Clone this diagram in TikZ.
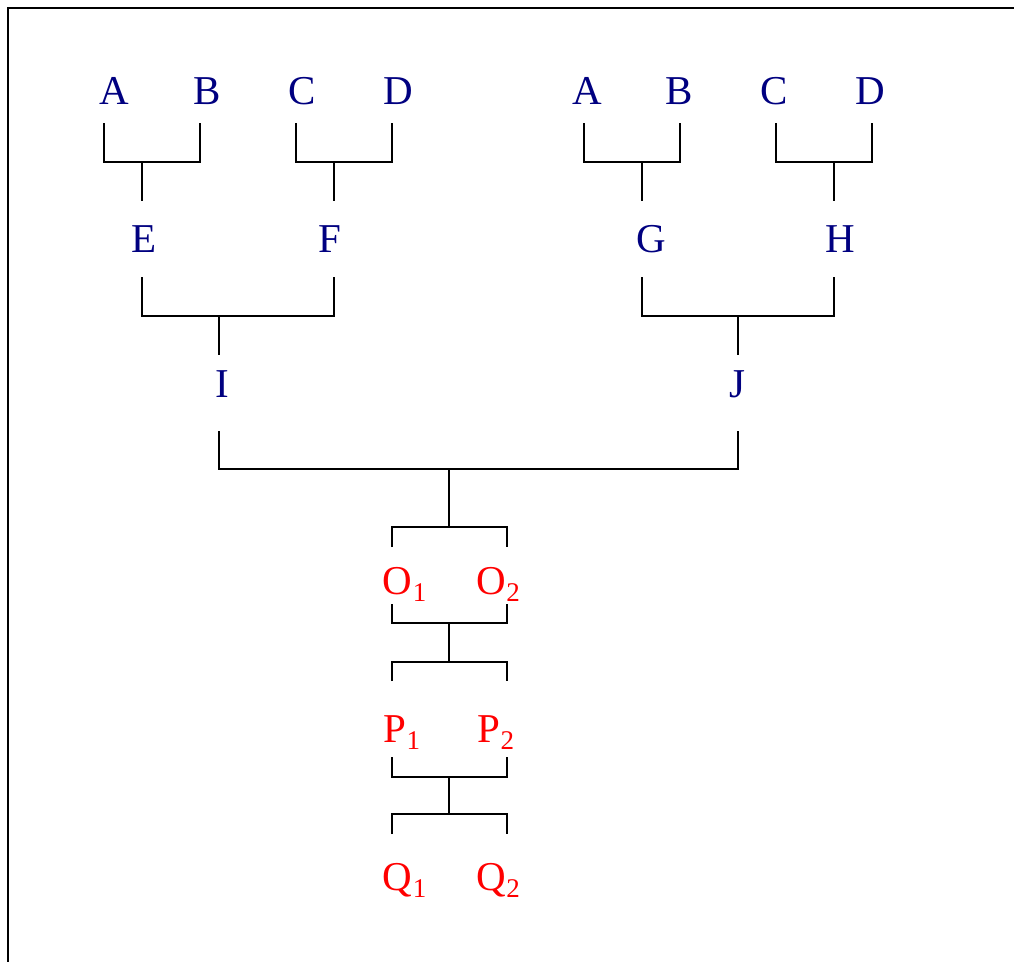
\documentclass[tikz,border=0pt]{standalone}
\usepackage{fontspec}
\setmainfont{Liberation Serif}
\definecolor{navy}{RGB}{0,0,128}
\definecolor{lred}{RGB}{255,0,0}
\newcommand\sbs[2]{#1\kern0.5pt\raisebox{-7pt}{\fontsize{27}{28}\selectfont #2}}
\begin{document}
\begin{tikzpicture}[x=1pt,y=-1pt,line width=1.6pt,
  lab/.style={inner sep=0pt,anchor=base,font=\fontsize{41}{49}\selectfont,text=navy},
  sublab/.style={inner sep=0pt,anchor=base west,font=\fontsize{41}{49}\selectfont,text=lred},
  brk/.style={draw=black,line join=miter}]
\useasboundingbox (0,0) rectangle (1014,961);
\begin{scope}
\clip (0,0) rectangle (1014,961);
\draw[line width=2pt] (8,8) rectangle (1040,990);
\end{scope}
% top row
\node[lab] (A1) at (114.5,104) {A};
\node[lab] (B1) at (207.5,104) {B};
\node[lab] (C1) at (302,104) {C};
\node[lab] (D1) at (398,104) {D};
\node[lab] (A2) at (587,104) {A};
\node[lab] (B2) at (679,104) {B};
\node[lab] (C2) at (774,104) {C};
\node[lab] (D2) at (870,104) {D};
% second row
\node[lab] (E) at (144,252) {E};
\node[lab] (F) at (330,252) {F};
\node[lab] (G) at (651,252) {G};
\node[lab] (H) at (840,252) {H};
% third row
\node[lab] (I) at (222,397) {I};
\node[lab] (J) at (737,397) {J};
% red rows
\node[sublab] (O1) at (382,594) {\sbs{O}{1}};
\node[sublab] (O2) at (475.5,594) {\sbs{O}{2}};
\node[sublab] (P1) at (382.5,742) {\sbs{P}{1}};
\node[sublab] (P2) at (476.5,742) {\sbs{P}{2}};
\node[sublab] (Q1) at (382,890) {\sbs{Q}{1}};
\node[sublab] (Q2) at (475.5,890) {\sbs{Q}{2}};
% junction coordinates
\coordinate (jAB1) at (142,162);
\coordinate (jCD1) at (334,162);
\coordinate (jAB2) at (642,162);
\coordinate (jCD2) at (834,162);
\coordinate (jEF) at (219,316);
\coordinate (jGH) at (738,316);
\coordinate (jIJ) at (449,469);
\coordinate (jO) at (449,527);
\coordinate (jOb) at (449,623);
\coordinate (jP) at (449,662);
\coordinate (jPb) at (449,777);
\coordinate (jQ) at (449,814);
% brackets
\draw[brk] (104,123) |- (200,162) -- (200,123);
\draw[brk] (jAB1) -- (142,201);
\draw[brk] (296,123) |- (392,162) -- (392,123);
\draw[brk] (jCD1) -- (334,201);
\draw[brk] (584,123) |- (680,162) -- (680,123);
\draw[brk] (jAB2) -- (642,201);
\draw[brk] (776,123) |- (872,162) -- (872,123);
\draw[brk] (jCD2) -- (834,201);
\draw[brk] (142,277) |- (334,316) -- (334,277);
\draw[brk] (jEF) -- (219,355);
\draw[brk] (642,277) |- (834,316) -- (834,277);
\draw[brk] (jGH) -- (738,355);
\draw[brk] (219,431) |- (738,469) -- (738,431);
\draw[brk] (jIJ) -- (jO);
\draw[brk] (392,547) |- (507,527) -- (507,547);
\draw[brk] (392,604) |- (507,623) -- (507,604);
\draw[brk] (jOb) -- (jP);
\draw[brk] (392,681) |- (507,662) -- (507,681);
\draw[brk] (392,757) |- (507,777) -- (507,757);
\draw[brk] (jPb) -- (jQ);
\draw[brk] (392,834) |- (507,814) -- (507,834);
\end{tikzpicture}
\end{document}
